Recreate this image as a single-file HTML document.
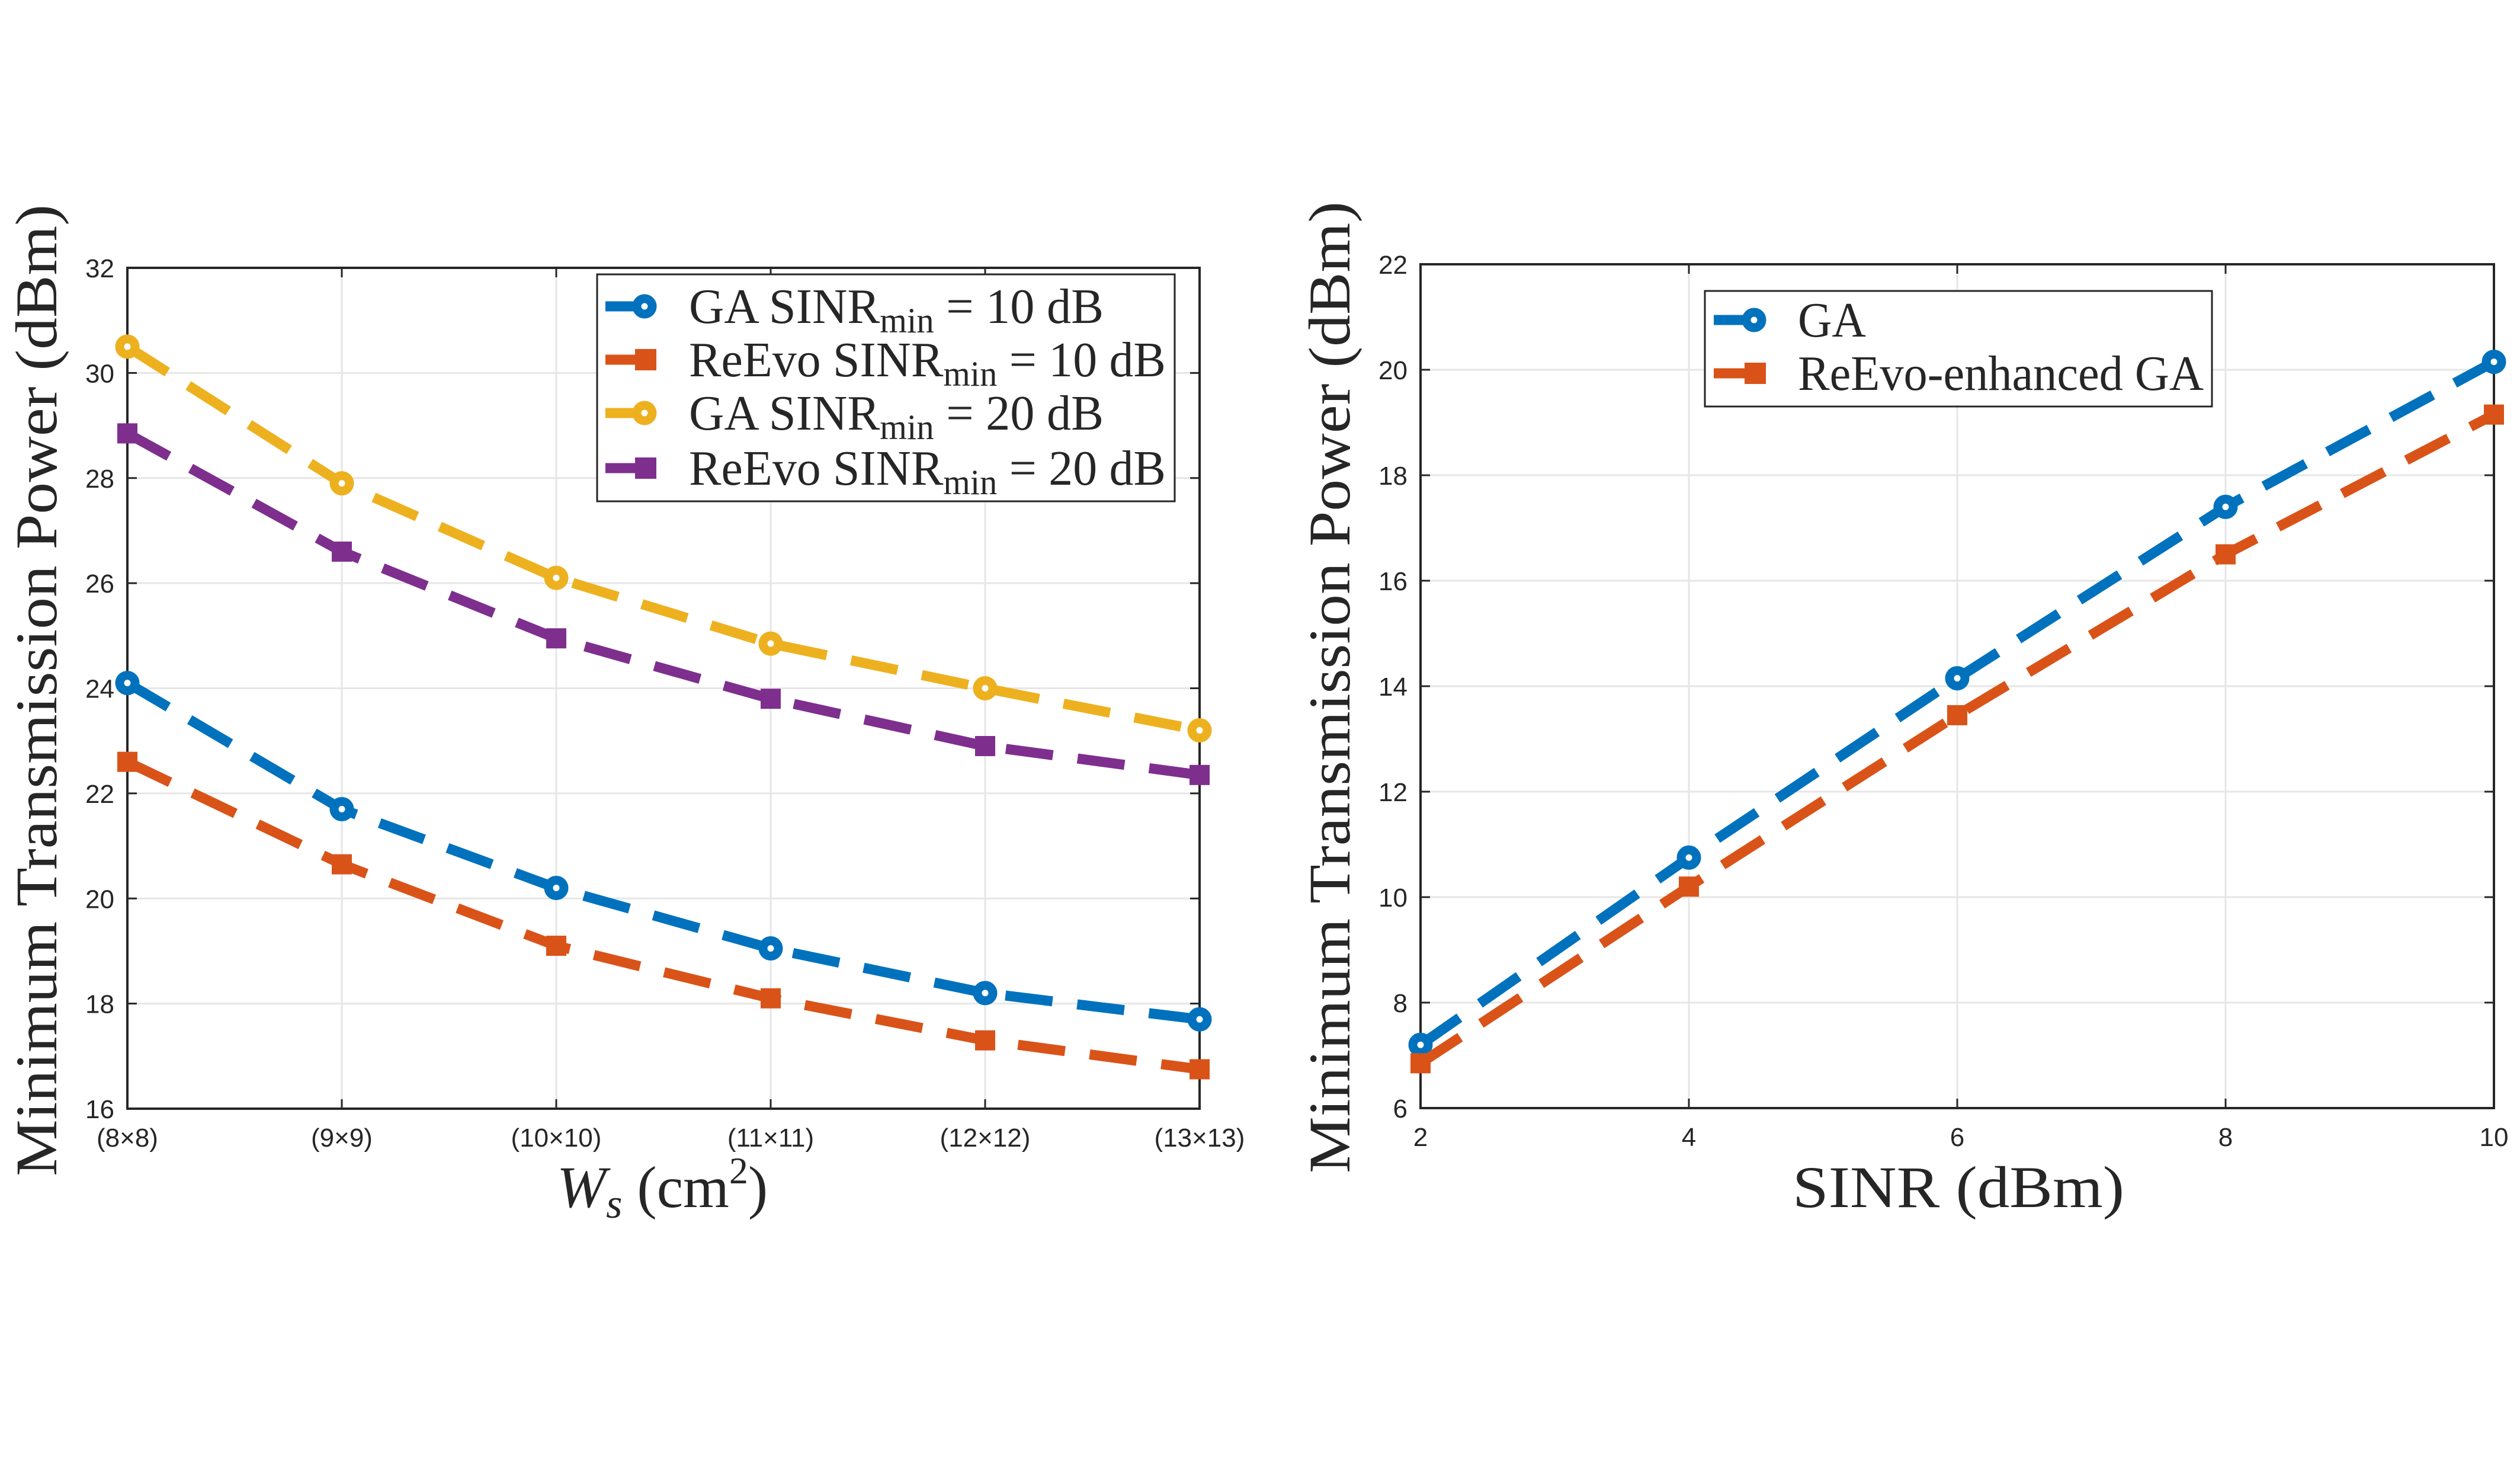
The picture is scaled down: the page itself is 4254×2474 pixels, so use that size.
<!DOCTYPE html>
<html><head><meta charset="utf-8"><style>
html,body{margin:0;padding:0;background:#fff;}
svg{display:block;}
.tick{font-family:"Liberation Sans",sans-serif;font-size:44px;fill:#262626;}
.lab{font-family:"Liberation Serif",serif;fill:#262626;}
</style></head><body>
<svg id="fig" width="4254" height="2474" viewBox="0 0 4254 2474" xmlns="http://www.w3.org/2000/svg">
<rect width="4254" height="2474" fill="#fff"/>
<g id="left"></g>
<g id="right"></g>
</svg>
<script>
// Left chart data
const leftCategories = ["(8×8)","(9×9)","(10×10)","(11×11)","(12×12)","(13×13)"];
const leftYTicks = [16,18,20,22,24,26,28,30,32];
const ga10 = [24.1,21.7,20.2,19.05,18.2,17.7];
const reevo10 = [22.6,20.65,19.1,18.1,17.3,16.75];
const ga20 = [30.5,27.9,26.1,24.85,24.0,23.2];
const reevo20 = [28.85,26.6,24.95,23.8,22.9,22.35];
// Right chart data
const rightX = [2,4,6,8,10];
const rightYTicks = [6,8,10,12,14,16,18,20,22];
const gaR = [7.2,10.75,14.15,17.4,20.15];
const reevoR = [6.85,10.2,13.45,16.5,19.15];

const NS="http://www.w3.org/2000/svg";
function mk(parent,tag,attrs){const e=document.createElementNS(NS,tag);for(const k in attrs)e.setAttribute(k,attrs[k]);parent.appendChild(e);return e;}

const C={blue:"#0072BD",orange:"#D95319",yellow:"#EDB120",purple:"#7E2F8E"};

function drawAxes(g,L,R,T,B,ymin,ymax,yTicks,xPos,xLabels){
  const sy=v=>B-(v-ymin)/(ymax-ymin)*(B-T);
  yTicks.forEach(v=>{const l=mk(g,"line",{x1:L,x2:R,y1:sy(v),y2:sy(v),stroke:"#e6e6e6","stroke-width":3});
    
    });
  xPos.forEach(x=>{const l=mk(g,"line",{x1:x,x2:x,y1:T,y2:B,stroke:"#e6e6e6","stroke-width":3});
    
    });
  const box=mk(g,"rect",{x:L,y:T,width:R-L,height:B-T,fill:"none",stroke:"#262626","stroke-width":4});
  
  
  yTicks.forEach(v=>{
    mk(g,"line",{x1:L,x2:L+16,y1:sy(v),y2:sy(v),stroke:"#262626","stroke-width":3});
    mk(g,"line",{x1:R,x2:R-16,y1:sy(v),y2:sy(v),stroke:"#262626","stroke-width":3});
    const t=mk(g,"text",{x:L-22,y:sy(v)+16,"text-anchor":"end",class:"tick"});t.textContent=v;
    
    
  });
  xPos.forEach((x,i)=>{
    mk(g,"line",{x1:x,x2:x,y1:B,y2:B-16,stroke:"#262626","stroke-width":3});
    mk(g,"line",{x1:x,x2:x,y1:T,y2:T+16,stroke:"#262626","stroke-width":3});
    const t=mk(g,"text",{x:x,y:B+64,"text-anchor":"middle",class:"tick"});t.textContent=xLabels[i];
    
    
  });
  return sy;
}
function series(g,xs,ys,sy,color,marker,name){
  const s=mk(g,"g",{});
  
  
  const pts=xs.map((x,i)=>x+","+sy(ys[i])).join(" ");
  const pl=mk(s,"polyline",{points:pts,fill:"none",stroke:color,"stroke-width":17,"stroke-dasharray":"80,42"});
  
  
  xs.forEach((x,i)=>{
    const y=sy(ys[i]);let m;
    if(marker==="o"){m=mk(s,"circle",{cx:x,cy:y,r:13,fill:"#fff",stroke:color,"stroke-width":15});}
    else{m=mk(s,"rect",{x:x-17,y:y-17,width:34,height:34,fill:color});}
    
    
  });
}
function legendEntry(g,x1,x2,y,color,marker,textX,parts,len){
  const e=mk(g,"g",{});
  
  
  mk(e,"line",{x1:x1,x2:x2,y1:y,y2:y,stroke:color,"stroke-width":17});
  if(marker==="o")mk(e,"circle",{cx:x2-14,cy:y,r:13,fill:"#fff",stroke:color,"stroke-width":15});
  else mk(e,"rect",{x:x2-30,y:y-18,width:36,height:36,fill:color});
  const t=mk(e,"text",{x:textX,y:y+28,class:"lab","font-size":84,textLength:len,lengthAdjust:"spacingAndGlyphs"});
  parts.forEach(p=>{const ts=mk(t,"tspan",p.sub?{"font-size":60,dy:16}:(p.back?{dy:-16}:{}));ts.textContent=p.t;});
}

// LEFT
(function(){
  const g=document.getElementById("left");
  const L=215,R=2025,T=452,B=1871;
  const xPos=leftCategories.map((c,i)=>L+i*(R-L)/(leftCategories.length-1));
  const sy=drawAxes(g,L,R,T,B,16,32,leftYTicks,xPos,leftCategories);
  series(g,xPos,ga20,sy,C.yellow,"o","series-ga-20db");
  series(g,xPos,reevo20,sy,C.purple,"s","series-reevo-20db");
  series(g,xPos,ga10,sy,C.blue,"o","series-ga-10db");
  series(g,xPos,reevo10,sy,C.orange,"s","series-reevo-10db");
  const lg=mk(g,"g",{});
  
  
  mk(lg,"rect",{x:1008,y:463,width:975,height:383,fill:"#fff",stroke:"#262626","stroke-width":3});
  const rows=[[517,C.blue,"o","GA SINR","10",700],[607,C.orange,"s","ReEvo SINR","10",805],[697,C.yellow,"o","GA SINR","20",700],[790,C.purple,"s","ReEvo SINR","20",805]];
  rows.forEach(r=>legendEntry(lg,1022,1102,r[0],r[1],r[2],1163,[{t:r[3]},{t:"min",sub:true},{t:" = "+r[4]+" dB",back:true}],r[5]));
  const yl=mk(g,"text",{x:0,y:0,transform:"translate(95,1165) rotate(-90)","text-anchor":"middle",class:"lab","font-size":100,textLength:1640,lengthAdjust:"spacingAndGlyphs"});
  yl.textContent="Minimum Transmission Power (dBm)";
  
  
  const xl=mk(g,"text",{x:1118,y:2037,"text-anchor":"middle",class:"lab","font-size":100});
  xl.innerHTML='<tspan font-style="italic">W</tspan><tspan font-style="italic" font-size="70" dy="18">s</tspan><tspan dy="-18"> (cm</tspan><tspan font-size="64" dy="-40">2</tspan><tspan dy="40">)</tspan>';
  
  
})();

// RIGHT
(function(){
  const g=document.getElementById("right");
  const L=2398,R=4210,T=446,B=1870;
  const sx=v=>L+(v-2)/(10-2)*(R-L);
  const xPos=rightX.map(sx);
  const sy=drawAxes(g,L,R,T,B,6,22,rightYTicks,xPos,rightX.map(String));
  series(g,xPos,gaR,sy,C.blue,"o","series-ga");
  series(g,xPos,reevoR,sy,C.orange,"s","series-reevo-enhanced-ga");
  const lg=mk(g,"g",{});
  
  
  mk(lg,"rect",{x:2878,y:491,width:856,height:195,fill:"#fff",stroke:"#262626","stroke-width":3});
  legendEntry(lg,2893,2975,540,C.blue,"o",3035,[{t:"GA"}],115);
  legendEntry(lg,2893,2975,630,C.orange,"s",3035,[{t:"ReEvo-enhanced GA"}],685);
  const yl=mk(g,"text",{x:0,y:0,transform:"translate(2278,1160) rotate(-90)","text-anchor":"middle",class:"lab","font-size":100,textLength:1640,lengthAdjust:"spacingAndGlyphs"});
  yl.textContent="Minimum Transmission Power (dBm)";
  
  
  const xl=mk(g,"text",{x:3306,y:2037,"text-anchor":"middle",class:"lab","font-size":100,textLength:560,lengthAdjust:"spacingAndGlyphs"});
  xl.textContent="SINR (dBm)";
  
  
})();
</script>
</body></html>
